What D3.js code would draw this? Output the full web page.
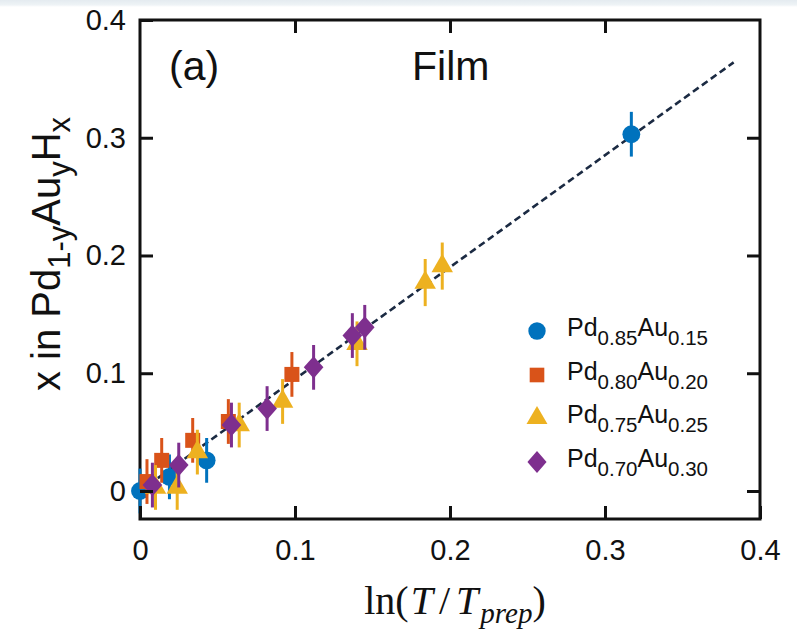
<!DOCTYPE html>
<html><head><meta charset="utf-8">
<script src="https://cdn.jsdelivr.net/npm/d3@7"></script>
<style>body{margin:0;background:#fff}</style>
</head><body>
<svg id="chart" width="797" height="631"></svg>
<script>
// ---- data ----
const seriesNames = ["Pd0.85Au0.15", "Pd0.80Au0.20", "Pd0.75Au0.25", "Pd0.70Au0.30"];
const legendMain1 = ["0.85", "0.80", "0.75", "0.70"];
const legendMain2 = ["0.15", "0.20", "0.25", "0.30"];
const pd85X = [0, 0.019, 0.043, 0.317];
const pd85Y = [0, 0.012, 0.026, 0.303];
const pd85E = [0.019, 0.019, 0.019, 0.019];
const pd80X = [0.0045, 0.014, 0.034, 0.057, 0.098];
const pd80Y = [0.008, 0.026, 0.043, 0.059, 0.099];
const pd80E = [0.019, 0.019, 0.019, 0.019, 0.019];
const pd75X = [0.010, 0.024, 0.037, 0.064, 0.092, 0.140, 0.184, 0.195];
const pd75Y = [0.003, 0.003, 0.033, 0.056, 0.076, 0.125, 0.177, 0.191];
const pd75E = [0.019, 0.019, 0.019, 0.019, 0.019, 0.019, 0.02, 0.02];
const pd70X = [0.008, 0.025, 0.059, 0.082, 0.112, 0.137, 0.145];
const pd70Y = [0.005, 0.022, 0.056, 0.070, 0.105, 0.132, 0.139];
const pd70E = [0.019, 0.019, 0.019, 0.019, 0.019, 0.019, 0.019];
const fitX = [0, 0.383];
const fitY = [0, 0.364];
const xTicks = [0, 0.1, 0.2, 0.3, 0.4];
const yTicks = [0, 0.1, 0.2, 0.3, 0.4];
const colors = ["#0072BD", "#D95319", "#EDB120", "#7E2F8E"];

// ---- layout ----
const svg = d3.select("#chart");
const L = 140, R = 760, T = 20, B = 519;
const x = d3.scaleLinear().domain([0, 0.4]).range([L, R]);
const y = d3.scaleLinear().domain([-0.0238, 0.4]).range([B, T]);

// top light band
const defs = svg.append("defs");
const g0 = defs.append("linearGradient").attr("id", "band").attr("x1", 0).attr("y1", 0).attr("x2", 0).attr("y2", 1);
g0.append("stop").attr("offset", "0%").attr("stop-color", "#e4ebf0");
g0.append("stop").attr("offset", "70%").attr("stop-color", "#eef3f6");
g0.append("stop").attr("offset", "100%").attr("stop-color", "#ffffff");
svg.append("rect").attr("x", 0).attr("y", 0).attr("width", 797).attr("height", 7).attr("fill", "url(#band)");

const series = [
  {xs: pd85X, ys: pd85Y, es: pd85E},
  {xs: pd80X, ys: pd80Y, es: pd80E},
  {xs: pd75X, ys: pd75Y, es: pd75E},
  {xs: pd70X, ys: pd70Y, es: pd70E}
];

const diamond = {draw(ctx, size) {
  const h = Math.sqrt(size) * 0.78, w = h * 0.88;
  ctx.moveTo(0, -h); ctx.lineTo(w, 0); ctx.lineTo(0, h); ctx.lineTo(-w, 0); ctx.closePath();
}};
const symTypes = [d3.symbolCircle, d3.symbolSquare, d3.symbolTriangle, diamond];
const symSizes = [250, 225, 200, 205];

const plot = svg.append("g");

// fit line
plot.append("path")
  .datum(fitX.map((v, i) => [v, fitY[i]]))
  .attr("d", d3.line().x(d => x(d[0])).y(d => y(d[1])))
  .attr("fill", "none").attr("stroke", "#1b2a42").attr("stroke-width", 2.6)
  .attr("stroke-dasharray", "7,4");

series.forEach((s, k) => {
  const g = plot.append("g");
  const pts = s.xs.map((v, i) => ({x: v, y: s.ys[i], e: s.es[i]}));
  g.selectAll("line").data(pts).join("line")
    .attr("x1", d => x(d.x)).attr("x2", d => x(d.x))
    .attr("y1", d => y(d.y - d.e)).attr("y2", d => y(d.y + d.e))
    .attr("stroke", colors[k]).attr("stroke-width", 3);
  g.selectAll("path").data(pts).join("path")
    .attr("transform", d => `translate(${x(d.x)},${y(d.y)})`)
    .attr("d", d3.symbol().type(symTypes[k]).size(symSizes[k]))
    .attr("fill", colors[k]);
});

// frame
svg.insert("rect", "g").attr("x", L).attr("y", T).attr("width", R - L).attr("height", B - T)
  .attr("fill", "none").attr("stroke", "#111").attr("stroke-width", 3);

const tl = 13;
const fontSans = "Arial, 'Liberation Sans', Helvetica, sans-serif";
// x axis ticks (bottom + top, inward)
const xa = svg.append("g").attr("transform", `translate(0,${B})`)
  .call(d3.axisBottom(x).tickValues(xTicks).tickSize(-tl).tickPadding(20)
    .tickFormat(d => d === 0 ? "0" : d3.format(".1f")(d)));
xa.select(".domain").remove();
xa.selectAll("line").attr("stroke", "#111").attr("stroke-width", 3);
xa.selectAll("text").attr("font-family", fontSans).attr("font-size", 29).attr("fill", "#111");
const xt = svg.append("g").attr("transform", `translate(0,${T})`)
  .call(d3.axisTop(x).tickValues(xTicks.slice(1, -1)).tickSize(-tl).tickFormat(""));
xt.select(".domain").remove();
xt.selectAll("line").attr("stroke", "#111").attr("stroke-width", 3);

const ya = svg.append("g").attr("transform", `translate(${L},0)`)
  .call(d3.axisLeft(y).tickValues(yTicks).tickSize(-tl).tickPadding(14)
    .tickFormat(d => d === 0 ? "0" : d3.format(".1f")(d)));
ya.select(".domain").remove();
ya.selectAll("line").attr("stroke", "#111").attr("stroke-width", 3);
ya.selectAll("text").attr("font-family", fontSans).attr("font-size", 29).attr("fill", "#111");
const yr = svg.append("g").attr("transform", `translate(${R},0)`)
  .call(d3.axisRight(y).tickValues(yTicks.slice(0, -1)).tickSize(-tl).tickFormat(""));
yr.select(".domain").remove();
yr.selectAll("line").attr("stroke", "#111").attr("stroke-width", 3);

// titles
svg.append("text").attr("x", 169).attr("y", 80).attr("font-family", fontSans)
  .attr("font-size", 41).attr("fill", "#111").text("(a)");
svg.append("text").attr("x", 412).attr("y", 80).attr("font-family", fontSans)
  .attr("font-size", 41).attr("fill", "#111").text("Film");

// y label
const yl = svg.append("text").attr("transform", "translate(60,254) rotate(-90)")
  .attr("text-anchor", "middle").attr("font-family", fontSans).attr("font-size", 40).attr("fill", "#111");
yl.append("tspan").text("x in Pd");
yl.append("tspan").attr("font-size", 31).attr("dy", 10).text("1-y");
yl.append("tspan").attr("dy", -10).text("Au");
yl.append("tspan").attr("font-size", 31).attr("dy", 10).text("y");
yl.append("tspan").attr("dy", -10).text("H");
yl.append("tspan").attr("font-size", 31).attr("dy", 10).text("x");

// x label
const xl = svg.append("text").attr("x", 455).attr("y", 614).attr("text-anchor", "middle")
  .attr("font-family", "'Liberation Serif', 'Times New Roman', serif").attr("font-size", 40).attr("fill", "#111");
xl.append("tspan").text("ln(");
xl.append("tspan").attr("font-style", "italic").attr("dx", 2).text("T");
xl.append("tspan").attr("dx", 6).text("/");
xl.append("tspan").attr("font-style", "italic").attr("dx", 6).text("T");
xl.append("tspan").attr("font-style", "italic").attr("font-size", 29).attr("dy", 9).attr("dx", 2).text("prep");
xl.append("tspan").attr("dy", -9).text(")");

// legend
const legRows = [331, 375, 418, 462];
const lg = svg.append("g");
seriesNames.forEach((name, k) => {
  lg.append("path").attr("transform", `translate(537,${legRows[k]})`)
    .attr("d", d3.symbol().type(symTypes[k]).size(symSizes[k] * 0.95)).attr("fill", colors[k]);
  const t = lg.append("text").attr("x", 567).attr("y", legRows[k] + 5)
    .attr("font-family", fontSans).attr("font-size", 25).attr("fill", "#111");
  t.append("tspan").text("Pd");
  t.append("tspan").attr("font-size", 20.5).attr("dy", 9).text(legendMain1[k]);
  t.append("tspan").attr("dy", -9).text("Au");
  t.append("tspan").attr("font-size", 20.5).attr("dy", 9).text(legendMain2[k]);
});
</script>
</body></html>
